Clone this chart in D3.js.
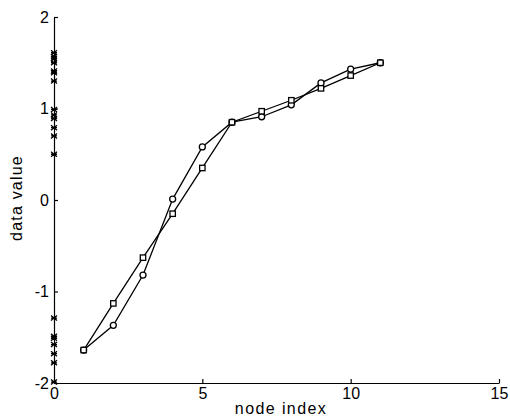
<!DOCTYPE html>
<html><head><meta charset="utf-8">
<script src="https://cdn.jsdelivr.net/npm/d3@7"></script>
<style>body{margin:0;background:#fff}svg{display:block}</style>
</head><body><svg id="c" width="510" height="420"></svg>
<script>
const nodeIndex = [1,2,3,4,5,6,7,8,9,10,11];
const circleValues = [-1.64,-1.37,-0.82,0.01,0.58,0.85,0.91,1.04,1.28,1.43,1.50];
const squareValues = [-1.64,-1.13,-0.63,-0.15,0.35,0.85,0.97,1.09,1.22,1.36,1.50];
const rugValues = [1.61,1.57,1.54,1.50,1.41,1.39,1.30,0.99,0.93,0.89,0.79,0.70,0.50,-1.29,-1.49,-1.51,-1.58,-1.68,-1.78,-1.99];
const xTicks = [0,5,10,15];
const yTicks = [-2,-1,0,1,2];

const svg = d3.select("#c");
const x = d3.scaleLinear().domain([0,15]).range([54,499]);
const y = d3.scaleLinear().domain([-2,2]).range([383,17]);
const font = "'Liberation Sans', Arial, sans-serif";
const fmt = d => String(d).replace("−","-");

const xAxis = svg.append("g").attr("transform",`translate(0,${y(-2)})`)
  .call(d3.axisBottom(x).tickValues(xTicks).tickFormat(fmt).tickSizeInner(-4).tickSizeOuter(0).tickPadding(5));
const yAxis = svg.append("g").attr("transform",`translate(${x(0)},0)`)
  .call(d3.axisLeft(y).tickValues(yTicks).tickFormat(fmt).tickSizeInner(-4).tickSizeOuter(0).tickPadding(5));
[xAxis,yAxis].forEach(a=>{
  a.select(".domain").attr("stroke","#000").attr("stroke-width",1.2);
  a.selectAll(".tick line").attr("stroke","#000").attr("stroke-width",1.2);
  a.selectAll(".tick text").attr("fill","#000").style("font-family",font).style("font-size","16px");
});

svg.append("text").attr("x",281).attr("y",414).attr("text-anchor","middle")
  .style("font-family",font).style("font-size","16px").style("letter-spacing","1.4px").text("node index");
svg.append("text").attr("transform",`translate(22,198) rotate(-90)`).attr("text-anchor","middle")
  .style("font-family",font).style("font-size","16px").style("letter-spacing","1.2px").text("data value");

// rug of x-marks on the y axis
const rug = svg.append("g");
rugValues.forEach(v=>{
  rug.append("path").attr("d",`M${x(0)-3},${y(v)-2.5}L${x(0)+3},${y(v)+2.5}M${x(0)-3},${y(v)+2.5}L${x(0)+3},${y(v)-2.5}M${x(0)-3},${y(v)}L${x(0)+3},${y(v)}`)
    .attr("stroke","#000").attr("stroke-width",1.3);
});

const line = d3.line().x((d,i)=>x(nodeIndex[i])).y(d=>y(d));
svg.append("path").attr("d",line(circleValues)).attr("fill","none").attr("stroke","#000").attr("stroke-width",1.3);
svg.append("path").attr("d",line(squareValues)).attr("fill","none").attr("stroke","#000").attr("stroke-width",1.3);

svg.append("g").selectAll("circle").data(circleValues).join("circle")
  .attr("cx",(d,i)=>x(nodeIndex[i])).attr("cy",d=>y(d)).attr("r",3)
  .attr("fill","#fff").attr("stroke","#000").attr("stroke-width",1.3);
svg.append("g").selectAll("rect").data(squareValues).join("rect")
  .attr("x",(d,i)=>x(nodeIndex[i])-2.7).attr("y",d=>y(d)-2.7).attr("width",5.4).attr("height",5.4)
  .attr("fill","#fff").attr("stroke","#000").attr("stroke-width",1.3);
</script></body></html>
